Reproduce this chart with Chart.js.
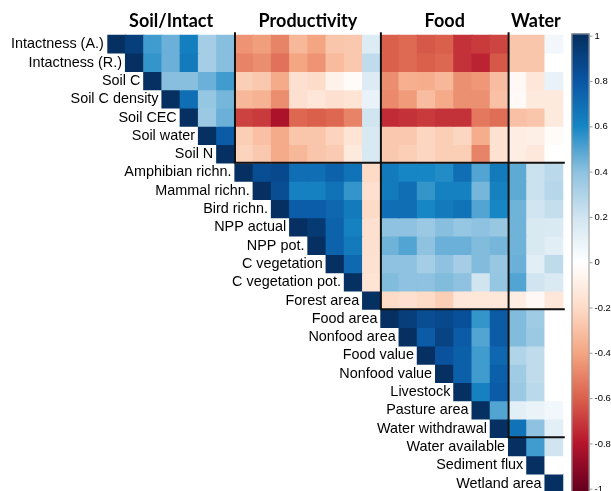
<!DOCTYPE html>
<html>
<head>
<meta charset="utf-8">
<script src="https://cdn.jsdelivr.net/npm/chart.js@4.4.1/dist/chart.umd.min.js"></script>
<style>
  html, body { margin: 0; padding: 0; overflow: hidden; background: #ffffff; }
  #wrap { width: 611px; height: 493px; position: relative; }
</style>
</head>
<body>
<div id="wrap"><canvas id="corr" width="611" height="493"></canvas></div>
<script>
// Variables, in matrix order
const variables = [
  'Intactness (A.)', 'Intactness (R.)', 'Soil C', 'Soil C density', 'Soil CEC', 'Soil water', 'Soil N',
  'Amphibian richn.', 'Mammal richn.', 'Bird richn.', 'NPP actual', 'NPP pot.', 'C vegetation', 'C vegetation pot.', 'Forest area',
  'Food area', 'Nonfood area', 'Food value', 'Nonfood value', 'Livestock', 'Pasture area', 'Water withdrawal',
  'Water available', 'Sediment flux', 'Wetland area'
];

// Upper triangle of the correlation matrix: row i holds r(i, i..24)
const corr = [
  [1, 0.92, 0.53, 0.46, 0.63, 0.33, 0.41, -0.45, -0.42, -0.5, -0.33, -0.4, -0.28, -0.27, 0.15, -0.6, -0.57, -0.62, -0.6, -0.72, -0.7, -0.67, -0.28, -0.28, 0.06],
  [1, 0.55, 0.46, 0.65, 0.33, 0.41, -0.5, -0.47, -0.55, -0.4, -0.45, -0.32, -0.27, 0.25, -0.6, -0.57, -0.6, -0.58, -0.72, -0.76, -0.62, -0.28, -0.28, 0.0],
  [1, 0.41, 0.41, 0.46, 0.53, -0.25, -0.27, -0.38, -0.17, -0.19, -0.07, -0.02, 0.15, -0.47, -0.36, -0.37, -0.33, -0.46, -0.44, -0.31, -0.04, -0.14, 0.1],
  [1, 0.7, 0.38, 0.44, -0.33, -0.35, -0.47, -0.17, -0.14, -0.17, -0.15, 0.1, -0.48, -0.43, -0.31, -0.38, -0.46, -0.46, -0.3, -0.03, -0.12, -0.12],
  [1, 0.36, 0.46, -0.68, -0.7, -0.82, -0.58, -0.6, -0.58, -0.5, 0.2, -0.74, -0.72, -0.7, -0.72, -0.72, -0.53, -0.56, -0.3, -0.28, -0.12],
  [1, 0.78, -0.25, -0.3, -0.38, -0.28, -0.28, -0.23, -0.15, 0.17, -0.27, -0.27, -0.22, -0.25, -0.22, -0.37, -0.16, -0.1, -0.09, -0.02],
  [1, -0.23, -0.27, -0.38, -0.33, -0.28, -0.26, -0.12, 0.17, -0.27, -0.25, -0.22, -0.25, -0.25, -0.5, -0.16, -0.1, -0.13, 0.0],
  [1, 0.85, 0.87, 0.7, 0.7, 0.75, 0.68, -0.2, 0.65, 0.6, 0.6, 0.58, 0.7, 0.5, 0.65, 0.48, 0.22, 0.27],
  [1, 0.85, 0.62, 0.62, 0.68, 0.55, -0.17, 0.65, 0.7, 0.55, 0.62, 0.62, 0.44, 0.62, 0.48, 0.22, 0.28],
  [1, 0.77, 0.77, 0.73, 0.65, -0.2, 0.7, 0.7, 0.6, 0.65, 0.68, 0.5, 0.6, 0.45, 0.2, 0.24],
  [1, 0.95, 0.75, 0.62, -0.17, 0.4, 0.4, 0.36, 0.41, 0.38, 0.4, 0.37, 0.45, 0.17, 0.16],
  [1, 0.75, 0.65, -0.17, 0.45, 0.5, 0.4, 0.46, 0.46, 0.42, 0.44, 0.45, 0.17, 0.13],
  [1, 0.72, -0.16, 0.4, 0.4, 0.33, 0.4, 0.33, 0.42, 0.37, 0.46, 0.13, 0.26],
  [1, -0.15, 0.42, 0.4, 0.4, 0.42, 0.4, 0.2, 0.38, 0.5, 0.2, 0.16],
  [1, -0.2, -0.17, -0.2, -0.25, -0.14, -0.14, -0.14, -0.1, -0.04, -0.14],
  [1, 0.92, 0.85, 0.87, 0.83, 0.55, 0.78, 0.42, 0.35, 0.0],
  [1, 0.78, 0.9, 0.78, 0.5, 0.78, 0.42, 0.36, 0.0],
  [1, 0.82, 0.76, 0.53, 0.73, 0.3, 0.25, 0.0],
  [1, 0.76, 0.53, 0.76, 0.35, 0.25, 0.0],
  [1, 0.62, 0.78, 0.36, 0.27, 0.0],
  [1, 0.5, 0.12, 0.09, 0.06],
  [1, 0.68, 0.4, 0.12],
  [1, 0.53, 0.2],
  [1, 0.0],
  [1]
];

// Variable groups: title and index of the first variable
const groupTitles = ['Soil/Intact', 'Productivity', 'Food', 'Water'];
const groupStarts = [0, 7, 15, 22];

// Colour bar tick labels
const legendTicks = [1, 0.8, 0.6, 0.4, 0.2, 0, -0.2, -0.4, -0.6, -0.8, -1];

// Diverging red-white-blue ramp, from -1 to 1
const ramp = ['#67001F', '#B5142C', '#DA604C', '#F4A582', '#FDDBC7', '#FFFFFF',
              '#D1E5F0', '#8EC2E0', '#1686C4', '#0A56A4', '#053061'];

function hexToRgb(h) {
  const v = parseInt(h.slice(1), 16);
  return [(v >> 16) & 255, (v >> 8) & 255, v & 255];
}
const rampRgb = ramp.map(hexToRgb);

function colorFor(v) {
  const t = (Math.max(-1, Math.min(1, v)) + 1) / 2 * (ramp.length - 1);
  const i = Math.min(ramp.length - 2, Math.floor(t));
  const f = t - i;
  const a = rampRgb[i], b = rampRgb[i + 1];
  const c = a.map((x, k) => Math.round(x + (b[k] - x) * f));
  return `rgb(${c[0]},${c[1]},${c[2]})`;
}

const n = variables.length;

// One floating-bar dataset per matrix row; each bar spans [row, row + 1]
const datasets = variables.map((name, r) => ({
  label: name,
  data: variables.map((_, c) => (c >= r ? [r, r + 1] : null)),
  backgroundColor: variables.map((_, c) => (c >= r ? colorFor(corr[r][c - r]) : 'rgba(0,0,0,0)')),
  borderWidth: 0,
  grouped: false,
  barPercentage: 1,
  categoryPercentage: 1,
  inflateAmount: 0.6
}));

const labelFont = '14.4px "Liberation Sans", Arial, sans-serif';
const titleFont = 'bold 18px Lato, "Liberation Sans", sans-serif';
const tickFont = '9.5px "Liberation Sans", Arial, sans-serif';

const decorations = {
  id: 'decorations',
  afterDatasetsDraw(chart) {
    const ctx = chart.ctx;
    const xs = chart.scales.x, ys = chart.scales.y;
    const cw = (xs.getPixelForValue(1) - xs.getPixelForValue(0));
    const colLeft = c => xs.getPixelForValue(c) - cw / 2;
    const rowTop = r => ys.getPixelForValue(r);
    const right = colLeft(n);
    const top = rowTop(0);

    ctx.save();
    // Row labels, right-aligned against the diagonal cell
    ctx.font = labelFont;
    ctx.fillStyle = '#000';
    ctx.textAlign = 'right';
    ctx.textBaseline = 'middle';
    variables.forEach((name, r) => {
      ctx.fillText(name, colLeft(r) - 3.5, ys.getPixelForValue(r + 0.5) + 0.5);
    });

    // Group titles above the columns
    ctx.font = titleFont;
    ctx.textAlign = 'center';
    ctx.textBaseline = 'middle';
    groupTitles.forEach((t, g) => {
      const a = groupStarts[g];
      const b = g + 1 < groupStarts.length ? groupStarts[g + 1] : n;
      ctx.fillText(t, (colLeft(a) + colLeft(b)) / 2, 21);
    });

    // Block separators
    ctx.strokeStyle = '#111';
    ctx.lineWidth = 2;
    groupStarts.slice(1).forEach(s => {
      const x = colLeft(s);
      const y = rowTop(s);
      ctx.beginPath();
      ctx.moveTo(x, top - 2.5);
      ctx.lineTo(x, y);
      ctx.lineTo(right + 1.5, y);
      ctx.stroke();
    });

    // Colour bar
    const bx = 571.5, bw = 18, by0 = 33.5, by1 = 492;
    const yOf = v => 262.7 - v * 226.5;
    const grad = ctx.createLinearGradient(0, yOf(1), 0, yOf(-1));
    ramp.slice().reverse().forEach((c, i) => grad.addColorStop(i / (ramp.length - 1), c));
    ctx.fillStyle = grad;
    ctx.fillRect(bx, by0, bw, by1 - by0);
    ctx.strokeStyle = '#9a9a9a';
    ctx.lineWidth = 1;
    ctx.strokeRect(bx + 0.5, by0 + 0.5, bw - 1, by1 - by0);

    ctx.font = tickFont;
    ctx.fillStyle = '#000';
    ctx.textAlign = 'left';
    ctx.textBaseline = 'middle';
    legendTicks.forEach(v => {
      const y = yOf(v);
      ctx.beginPath();
      ctx.moveTo(bx + bw, y);
      ctx.lineTo(bx + bw + 3, y);
      ctx.stroke();
      ctx.fillText(String(v), bx + bw + 5, y);
    });
    ctx.restore();
  }
};

new Chart(document.getElementById('corr'), {
  type: 'bar',
  data: { labels: variables, datasets },
  options: {
    responsive: false,
    animation: false,
    devicePixelRatio: 1,
    layout: { padding: { left: 107.3, right: 47.7, top: 34.7, bottom: 0.8 } },
    scales: {
      x: { type: 'category', display: false, offset: true, grid: { display: false } },
      y: { type: 'linear', display: false, min: 0, max: n, reverse: true, grid: { display: false } }
    },
    plugins: { legend: { display: false }, tooltip: { enabled: false } }
  },
  plugins: [decorations]
});
</script>
</body>
</html>
